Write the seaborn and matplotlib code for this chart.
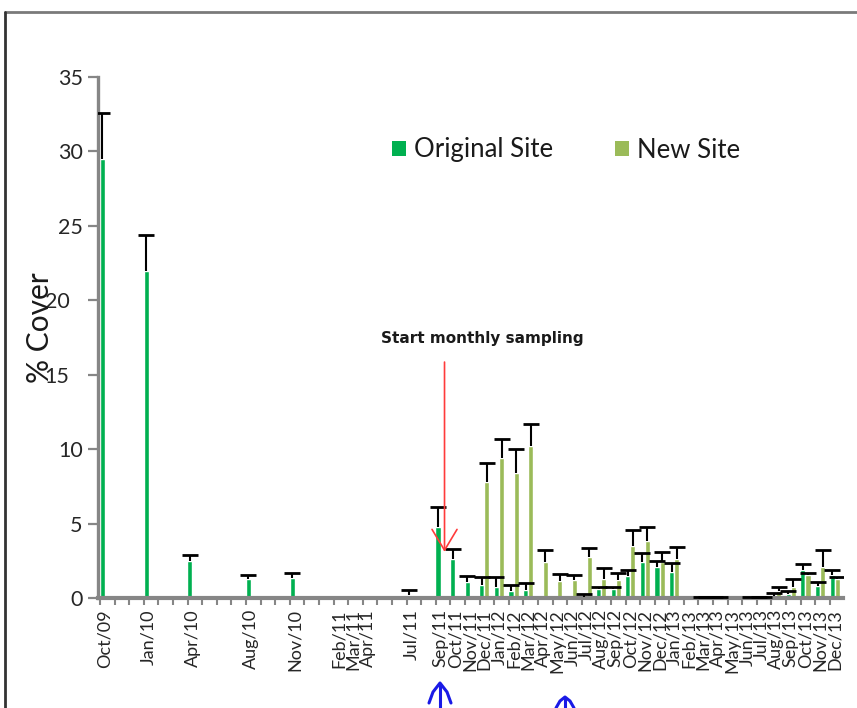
import matplotlib
matplotlib.use("Agg")
import matplotlib.pyplot as plt
import numpy as np
import pandas as pd
import seaborn as sns
from matplotlib.lines import Line2D
from matplotlib.patches import Patch

sns.set_theme(style="white")
plt.rcParams["font.family"] = ["Lato", "DejaVu Sans"]

# Sampling months and mean % cover (upper error = SE) for each site
months = ["Oct/09", "Jan/10", "Apr/10", "Aug/10", "Nov/10", "Feb/11", "Mar/11",
          "Apr/11", "Jul/11", "Sep/11", "Oct/11", "Nov/11", "Dec/11", "Jan/12",
          "Feb/12", "Mar/12", "Apr/12", "May/12", "Jun/12", "Jul/12", "Aug/12",
          "Sep/12", "Oct/12", "Nov/12", "Dec/12", "Jan/13", "Feb/13", "Mar/13",
          "Apr/13", "May/13", "Jun/13", "Jul/13", "Aug/13", "Sep/13", "Oct/13",
          "Nov/13", "Dec/13"]

original_cover = [29.5, 22.0, 2.5, 1.25, 1.35, 0.0, 0.0, 0.0, 0.2, 4.75, 2.6,
                  1.05, 0.85, 0.75, 0.45, 0.55, 0.0, 0.0, 0.0, 0.05, 0.6, 0.6,
                  1.5, 2.45, 2.05, 1.75, 0.0, 0.05, 0.05, 0.0, 0.0, 0.05, 0.15,
                  0.25, 1.9, 0.8, 1.55]
original_err = [3.1, 2.4, 0.4, 0.3, 0.35, 0.0, 0.0, 0.0, 0.35, 1.35, 0.7,
                0.45, 0.55, 0.65, 0.4, 0.45, 0.0, 0.0, 0.0, 0.2, 0.15, 0.15,
                0.4, 0.6, 0.45, 0.6, 0.0, 0.05, 0.05, 0.0, 0.0, 0.05, 0.2,
                0.2, 0.4, 0.3, 0.35]

new_cover = [None] * 12 + [7.8, 9.4, 8.4, 10.2, 2.45, 1.15, 1.2, 2.75, 1.3,
                           1.2, 3.5, 3.85, 2.45, 2.65, 0.0, 0.05, 0.05, 0.0,
                           0.05, 0.05, 0.45, 0.75, 1.55, 2.1, 1.25]
new_err = [None] * 12 + [1.3, 1.3, 1.6, 1.5, 0.8, 0.45, 0.35, 0.6, 0.7, 0.5,
                         1.1, 0.95, 0.65, 0.8, 0.0, 0.05, 0.05, 0.0, 0.05,
                         0.05, 0.3, 0.55, 0.15, 1.1, 0.15]

site_names = ["Original Site", "New Site"]
site_colors = ["#00B050", "#9BBB59"]

first = pd.Period("2009-10", "M")


def month_index(label):
    p = pd.Period(pd.to_datetime(label, format="%b/%y"), "M")
    return (p - first).n


month_idx = np.array([month_index(m) for m in months])
pair_center = month_idx + 0.33  # centre of the original/new bar pair

rows = []
for i, m in enumerate(months):
    rows.append(dict(pos=pair_center[i], cover=original_cover[i],
                     err=original_err[i], site=site_names[0]))
    if new_cover[i] is not None:
        rows.append(dict(pos=pair_center[i], cover=new_cover[i],
                         err=new_err[i], site=site_names[1]))
df = pd.DataFrame(rows)

fig = plt.figure(figsize=(8.57, 7.08), dpi=100)
ax = fig.add_axes([98 / 857, 1 - 598 / 708, 745 / 857, (598 - 77) / 708])

bar_width = 0.7
sns.barplot(data=df, x="pos", y="cover", hue="site", hue_order=site_names,
            palette=site_colors, native_scale=True, width=bar_width,
            dodge=True, errorbar=None, saturation=1, legend=False, ax=ax)

# upper-only error bars: stem from the bar top plus a cap
offsets = {site_names[0]: -bar_width / 4, site_names[1]: bar_width / 4}
for site in site_names:
    d = df[(df.site == site) & (df.err > 0)]
    x = d.pos + offsets[site]
    top = d.cover + d.err
    ax.vlines(x, d.cover, top, colors="black", lw=1.5, zorder=3)
    ax.plot(x, top, ls="none", marker="_", ms=11, mew=2.0, color="black",
            zorder=3)

ax.set_xlim(-0.14, 50.9)
ax.set_ylim(0, 35)
ax.set_yticks(np.arange(0, 36, 5))
ax.set_xticks(pair_center, months, rotation=90)
ax.set_xticks(np.arange(0, 51), minor=True)
ax.set_xlabel("")
ax.set_ylabel("")

grey = "#868686"
for side in ["top", "right"]:
    ax.spines[side].set_visible(False)
ax.spines["left"].set_color(grey)
ax.spines["left"].set_linewidth(2.4)
ax.spines["bottom"].set_color(grey)
ax.spines["bottom"].set_linewidth(3)

ax.tick_params(axis="y", which="major", direction="out", length=7, width=1.6,
               color=grey, labelsize=15.5, labelcolor="#262626", pad=4,
               left=True)
ax.tick_params(axis="x", which="major", length=0, labelsize=13,
               labelcolor="#262626", pad=8)
ax.tick_params(axis="x", which="minor", direction="out", length=5, width=1.5,
               color=grey, bottom=True)

# the 15 and 20 labels sit further out, beside the axis title
for tick, val in zip(ax.yaxis.get_major_ticks(), np.arange(0, 36, 5)):
    if val in (15, 20):
        tick.set_pad(13.5)

fig.text(40 / 857, 1 - 328 / 708, "% Cover", rotation=90, ha="center",
         va="center", fontsize=21.5, color="#1a1a1a")

# start-of-monthly-sampling marker
ax.annotate("", xy=(23.6, 3.1), xytext=(23.6, 15.85),
            arrowprops=dict(arrowstyle="->,head_length=0.75,head_width=0.45",
                            mutation_scale=20, color="#FF3B3B", lw=1.2,
                            shrinkA=0, shrinkB=0))
ax.text(26.2, 17.45, "Start monthly sampling", ha="center", va="center",
        fontsize=11, fontweight="bold", color="#1a1a1a",
        family=["DejaVu Sans"])

handles = [Patch(facecolor=c, edgecolor="none") for c in site_colors]
fig.legend(handles, site_names, loc="center",
           bbox_to_anchor=(566 / 857, 1 - 150 / 708), ncol=2, frameon=False,
           fontsize=18.5, handlelength=0.55, handleheight=0.55,
           handletextpad=0.3, columnspacing=2.4, labelcolor="#1a1a1a")

# outer frame (top and left edges)
W, H = 857, 708
fig.add_artist(Line2D([5 / W, 1], [1 - 12 / H, 1 - 12 / H],
                      transform=fig.transFigure, color="#7a7a7a", lw=2))
fig.add_artist(Line2D([5 / W, 5 / W], [0, 1 - 12 / H],
                      transform=fig.transFigure, color="#333333", lw=2))

# hand-drawn blue markers below the axis
blue = "#1a1ae6"
for xs, ys in [([440, 440], [708, 684]),
               ([429, 433, 440, 447, 451], [703, 692, 683, 692, 703]),
               ([565, 565], [708, 699]),
               ([556, 560, 565, 570, 574], [708, 701, 697, 701, 708])]:
    fig.add_artist(Line2D([x / W for x in xs], [1 - y / H for y in ys],
                          transform=fig.transFigure, color=blue, lw=2.2,
                          solid_capstyle="round"))

fig.savefig("out.png", dpi=100, facecolor="white")
